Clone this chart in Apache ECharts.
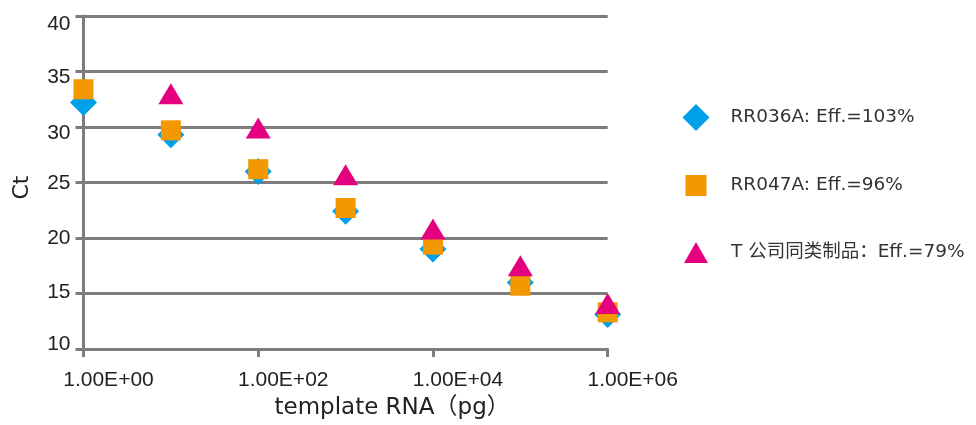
<!DOCTYPE html>
<html>
<head>
<meta charset="utf-8">
<script src="https://cdn.jsdelivr.net/npm/echarts@6/dist/echarts.min.js"></script>
<style>html,body{margin:0;padding:0;background:#fff;}#c{width:976px;height:425px;}</style>
</head>
<body>
<div id="c"></div>
<script>
const xValues = [1, 10, 100, 1000, 10000, 100000, 1000000];
const rr036a = [32.2, 29.3, 26.0, 22.4, 19.0, 16.0, 13.1];
const rr047a = [33.4, 29.7, 26.2, 22.7, 19.4, 15.7, 13.3];
const tComp  = [null, 33.0, 29.9, 25.7, 20.8, 17.5, 14.1];
const seriesNames = ['RR036A: Eff.=103%', 'RR047A: Eff.=96%', 'T 公司同类制品：Eff.=79%'];
const yTicks = {min: 10, max: 40, interval: 5};
const yLabelTicks = [10, 15, 20, 25, 30, 35, 40];

function pairs(vals){ return xValues.map((x,i)=> vals[i]==null ? null : [x, vals[i]]).filter(p=>p); }

// small vertical nudges of the y tick labels (as in the reference rendering)
const yLabelNudge = {40: 8, 35: 6, 30: 6, 25: 1, 20: 0, 15: -1.5, 10: -4.5};
const FONT = '"DejaVu Sans", "Noto Sans CJK SC", sans-serif';
const NUMFONT = '"Liberation Sans", "Noto Sans CJK SC", sans-serif';
const AX = '#7d7d7d';
const TXT = '#222';
const yRich = {};
yLabelTicks.forEach(v => {
  const d = yLabelNudge[v] || 0;
  yRich['o' + v] = {fontSize: 21, color: TXT, fontFamily: NUMFONT,
    padding: d >= 0 ? [2*d, 0, 0, 0] : [0, 0, -2*d, 0]};
});

const chart = echarts.init(document.getElementById('c'), null, {renderer:'canvas'});
chart.setOption({
  animation: false,
  textStyle: {fontFamily: FONT},
  grid: {left: 83.5, right: 368.3, top: 16, bottom: 75, containLabel: false},
  xAxis: {
    type: 'log', logBase: 100, min: 1, max: 1000000,
    name: 'template RNA（pg）', nameLocation: 'middle', nameGap: 48,
    nameTextStyle: {fontSize: 23, color: TXT, fontFamily: FONT, padding: [0,0,0,93]},
    axisLine: {show: true, lineStyle: {color: AX, width: 3}},
    axisTick: {show: true, length: 8, lineStyle: {color: AX, width: 3}},
    minorTick: {show: false},
    splitLine: {show: false},
    axisLabel: {fontSize: 21, color: TXT, margin: 21, fontFamily: NUMFONT, padding: [0,0,0,50],
      formatter: v => { const e = Math.round(Math.log10(v)); return '1.00E+' + (e < 10 ? '0' + e : e); }}
  },
  yAxis: {
    type: 'value', min: yTicks.min, max: yTicks.max, interval: yTicks.interval,
    name: 'Ct', nameLocation: 'middle', nameGap: 50,
    nameTextStyle: {fontSize: 22, color: TXT, fontFamily: FONT, padding: [0,10,0,0]},
    axisLine: {show: true, lineStyle: {color: AX, width: 3}},
    axisTick: {show: true, length: 8, lineStyle: {color: AX, width: 3}},
    splitLine: {show: true, lineStyle: {color: AX, width: 3}},
    axisLabel: {fontSize: 21, color: TXT, margin: 13, fontFamily: NUMFONT,
      formatter: v => '{o' + v + '|' + v + '}', rich: yRich}
  },
  legend: [
    {data: [{name: seriesNames[0], icon: 'diamond'}], orient: 'vertical', left: 682.5, top: 104, padding: 0,
     itemWidth: 27, itemHeight: 27, textStyle: {fontSize: 18.5, color: '#333', fontFamily: FONT, padding: [0,0,0,16]}},
    {data: [{name: seriesNames[1], icon: 'rect'}], orient: 'vertical', left: 685.5, top: 175, padding: 0,
     itemWidth: 21, itemHeight: 21, textStyle: {fontSize: 18.5, color: '#333', fontFamily: FONT, padding: [0,0,0,19]}},
    {data: [{name: seriesNames[2], icon: 'triangle'}], orient: 'vertical', left: 684, top: 242, padding: 0,
     itemWidth: 24, itemHeight: 21, textStyle: {fontSize: 18.5, color: '#333', fontFamily: FONT, padding: [0,0,0,18]}}
  ],
  series: [
    {name: seriesNames[0], type: 'scatter', symbol: 'diamond', symbolSize: [27, 27],
     itemStyle: {color: '#00a0e9', opacity: 1}, data: pairs(rr036a)},
    {name: seriesNames[1], type: 'scatter', symbol: 'rect', symbolSize: [20, 20],
     itemStyle: {color: '#f39800', opacity: 1}, data: pairs(rr047a)},
    {name: seriesNames[2], type: 'scatter', symbol: 'triangle', symbolSize: [25, 21],
     itemStyle: {color: '#e4007f', opacity: 1}, data: pairs(tComp)}
  ]
});
</script>
</body>
</html>
